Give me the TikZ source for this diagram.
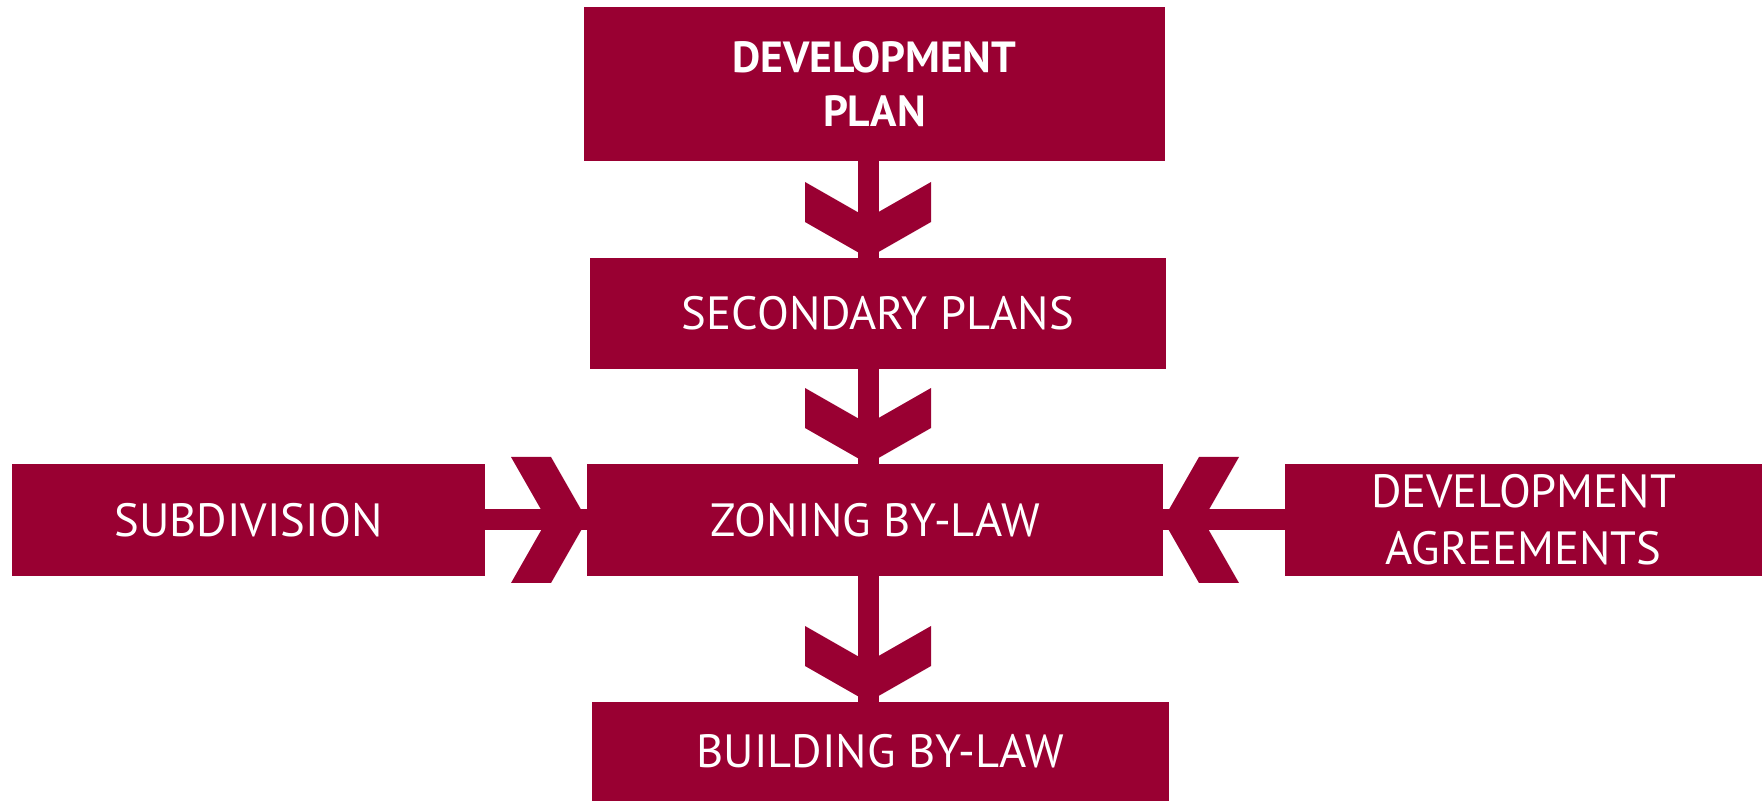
\documentclass[tikz,border=0pt]{standalone}
\usepackage{fontspec}
\setmainfont{PT Sans}
\usetikzlibrary{positioning}
\definecolor{plancrimson}{RGB}{153,0,50}
\tikzset{
  planbox/.style={fill=plancrimson, text=white, inner sep=0pt, outer sep=0pt,
    minimum width=288pt, minimum height=56pt, align=center,
    font=\fontsize{23.3}{28.5}\selectfont},
  stem/.style={draw=plancrimson, line width=10.5pt},
  chev/.pic={
    \fill[plancrimson] (0,0) -- (-63,36) -- (-63,76) -- (0,40) -- (63,76) -- (63,36) -- cycle;
  }
}

\begin{document}
\begin{tikzpicture}[x=0.5pt, y=0.5pt]
		\useasboundingbox (0,0) rectangle (1762,-801);

		% Main column
		\node[planbox, minimum width=290.5pt, minimum height=77pt,
		  font=\fontsize{21.8}{27}\selectfont\bfseries] (devplan) at (874.5,-84) {DEVELOPMENT\\PLAN};
		\node[planbox, minimum height=55.5pt] (secplans) at (878,-313.5) {SECONDARY PLANS};
		\node[planbox] (zoning) at (875,-520) {ZONING BY-LAW};
		\node[planbox, minimum width=288.5pt, minimum height=49.5pt] (building) at (880.5,-751.5) {BUILDING BY-LAW};
		\coordinate (col) at (868,0);

		% Side boxes
		\node[planbox, minimum width=236.5pt] (subdiv) at (248.5,-520) {SUBDIVISION};
		\node[planbox, minimum width=238.5pt] (agree) at (1523.5,-520) {DEVELOPMENT\\AGREEMENTS};

		% Arrows down
		\draw[stem] (devplan.south -| col) -- (secplans.north -| col);
		\pic at (secplans.north -| col) {chev};
		\draw[stem] (secplans.south -| col) -- (zoning.north -| col);
		\pic at (zoning.north -| col) {chev};
		\draw[stem] (zoning.south -| col) -- (building.north -| col);
		\pic at (building.north -| col) {chev};

		% Arrows in from the sides
		\draw[stem] (subdiv.east) -- (zoning.west);
		\pic[rotate=90] at (zoning.west) {chev};
		\draw[stem] (agree.west) -- (zoning.east);
		\pic[rotate=-90] at (zoning.east) {chev};
	\end{tikzpicture}
\end{document}
